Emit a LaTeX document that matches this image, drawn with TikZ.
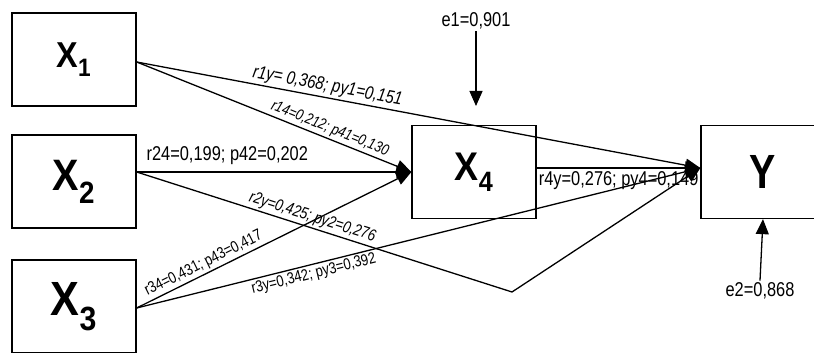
\documentclass[tikz,border=0pt]{standalone}
\usepackage{fontspec}
\setmainfont{Liberation Sans}[FakeStretch=0.82]
\newfontfamily\boxfont{Liberation Sans}[FakeStretch=0.9]
\usetikzlibrary{arrows.meta}

\tikzset{
  varbox/.style={draw, line width=1.3pt, minimum width=124pt, minimum height=93pt, inner sep=0pt},
  link/.style={line width=1.3pt, -{Triangle[length=15pt,width=13pt]}},
  lbl/.style={inner sep=2pt, font=\fontsize{20}{22}\selectfont},
  slbl/.style={inner sep=2pt, sloped, font=\fontsize{16}{18}\selectfont},
}

\begin{document}
\begin{tikzpicture}[x=1pt,y=1pt]
\useasboundingbox (0,0) rectangle (814,353);

% Boxes
\node [varbox, font=\fontsize{36}{36}\boxfont\bfseries] (x1) at (74,293.5) {X\textsubscript{1}};
\node [varbox, font=\fontsize{44}{44}\boxfont\bfseries] (x2) at (74,171.5) {X\textsubscript{2}};
\node [varbox, font=\fontsize{48}{48}\boxfont\bfseries] (x3) at (74,46.5) {X\textsubscript{3}};
\node [varbox, font=\fontsize{40}{40}\boxfont\bfseries] (x4) at (474,181) {X\textsubscript{4}};
\node [varbox, font=\fontsize{48}{48}\selectfont\bfseries] (y) at (763,181) {Y};

% Error terms
\node [lbl] (e1) at (476,332) {e1=0,901};
\node [lbl] (e2) at (760,62) {e2=0,868};
\coordinate (e1tip) at (476,247);
\coordinate (yin) at ([yshift=4pt]y.west);
\coordinate (bend) at (512,61);

%Straight Lines
\draw [link] ([yshift=-2.5pt]x1.east) -- node [slbl, above, pos=0.335, font=\fontsize{18.5}{20}\selectfont\itshape] {r1y= 0,368; py1=0,151} (yin);
\draw [link] ([yshift=-2.5pt]x1.east) -- node [slbl, above, pos=0.69, font=\fontsize{15.5}{17}\selectfont\itshape] {r14=0,212; p41=0,130} (x4.west);
\draw [link] ([yshift=9.5pt]x2.east) -- node [lbl, above, pos=0.33, yshift=5pt] {r24=0,199; p42=0,202} (x4.west);
\draw [link] ([yshift=9.5pt]x2.east) -- node [slbl, above, pos=0.46, font=\fontsize{16.5}{18}\selectfont\itshape] {r2y=0,425; py2=0,276} (bend) -- (yin);
\draw [link] ([yshift=-1.5pt]x3.east) -- node [slbl, above, pos=0.26] {r34=0,431; p43=0,417} (x4.west);
\draw [link] ([yshift=-1.5pt]x3.east) -- node [slbl, below, pos=0.31] {r3y=0,342; py3=0,392} (yin);
\draw [link] ([yshift=4pt]x4.east) -- (yin);
\draw [link] (e1.south) -- (e1tip);
\draw [link] (e2.north) -- (y.south);

% Text Node
\node [lbl, anchor=north west] (r4y) at ([yshift=-1pt]x4.east |- yin) {r4y=0,276; py4=0,149};

\end{tikzpicture}
\end{document}
